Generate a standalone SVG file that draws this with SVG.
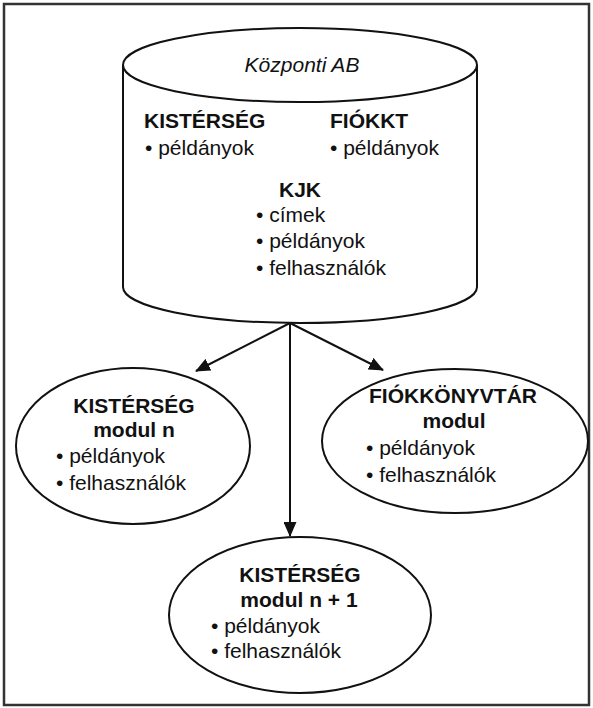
<svg xmlns="http://www.w3.org/2000/svg" width="593" height="708" viewBox="0 0 593 708">
<defs>
<style>
.shape{fill:#fff;stroke:#111;stroke-width:2}
.edge{fill:none;stroke:#111;stroke-width:2}
text{font-family:"Liberation Sans",Arial,sans-serif;font-size:21px;fill:#111}
.b{font-weight:bold}
.c{text-anchor:middle}
.i{font-style:italic}
</style>
<marker id="ah" viewBox="0 0 15 13" refX="14" refY="6.5" markerWidth="15" markerHeight="13" markerUnits="userSpaceOnUse" orient="auto">
<path d="M0,0 L15,6.5 L0,13 z" fill="#111"/>
</marker>
</defs>
<rect x="0" y="0" width="593" height="708" fill="#fff"/>
<rect x="4" y="4" width="585" height="701" fill="none" stroke="#333" stroke-width="2.5"/>
<g id="kozponti-ab">
<path class="shape" d="M123,65 L123,287 A177,36 0 0 0 477,287 L477,65"/>
<ellipse class="shape" cx="300" cy="65" rx="177" ry="37"/>
<text class="i c" x="302" y="72">Központi AB</text>
<text class="b" x="144" y="128">KISTÉRSÉG</text>
<text x="145" y="155">• példányok</text>
<text class="b" x="330" y="128">FIÓKKT</text>
<text x="330" y="155">• példányok</text>
<text class="b c" x="300" y="197">KJK</text>
<text x="256" y="222">• címek</text>
<text x="256" y="248">• példányok</text>
<text x="256" y="275">• felhasználók</text>
</g>
<g id="connectors">
<line class="edge" x1="290" y1="323" x2="196" y2="371" marker-end="url(#ah)"/>
<line class="edge" x1="290" y1="323" x2="383" y2="370" marker-end="url(#ah)"/>
<line class="edge" x1="290" y1="323" x2="290" y2="536" marker-end="url(#ah)"/>
</g>
<g id="kisterseg-n">
<ellipse class="shape" cx="133" cy="446" rx="117" ry="78"/>
<text class="b c" x="134" y="413">KISTÉRSÉG</text>
<text class="b c" x="134" y="437">modul n</text>
<text x="56" y="463">• példányok</text>
<text x="56" y="490">• felhasználók</text>
</g>
<g id="fiokkonyvtar">
<ellipse class="shape" cx="455" cy="441" rx="133" ry="72"/>
<text class="b c" x="453" y="403">FIÓKKÖNYVTÁR</text>
<text class="b c" x="454" y="428">modul</text>
<text x="366" y="455">• példányok</text>
<text x="366" y="482">• felhasználók</text>
</g>
<g id="kisterseg-n1">
<ellipse class="shape" cx="300" cy="615" rx="131" ry="78"/>
<text class="b c" x="300" y="582">KISTÉRSÉG</text>
<text class="b c" x="299" y="607">modul n + 1</text>
<text x="211" y="633">• példányok</text>
<text x="211" y="658">• felhasználók</text>
</g>
</svg>
